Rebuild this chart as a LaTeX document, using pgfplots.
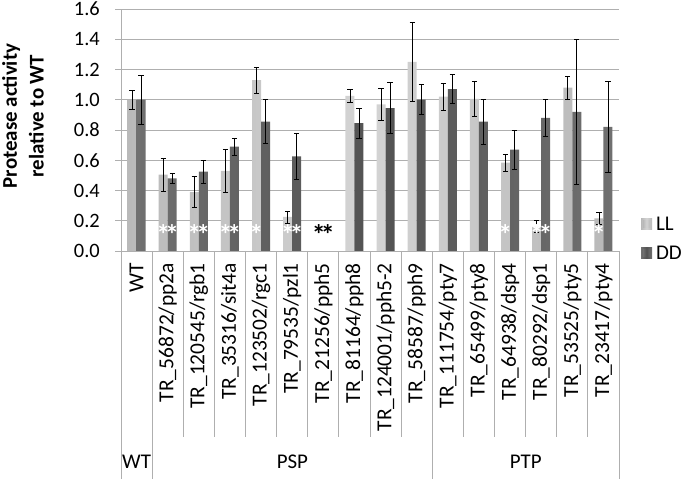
\documentclass[border=0pt]{standalone}
\usepackage{pgfplots}
\pgfplotsset{compat=1.18}
\usepackage{fontspec}
\setmainfont{Carlito}
\definecolor{linegray}{RGB}{175,175,175}
\definecolor{llA}{RGB}{185,185,185}
\definecolor{llB}{RGB}{212,212,212}
\definecolor{ddA}{RGB}{112,112,112}
\definecolor{ddB}{RGB}{82,82,82}
\newcommand{\dstar}{*\kern-5bp*}
\begin{document}
\begin{tikzpicture}
\useasboundingbox (0,0) rectangle (685bp,479bp);
\begin{axis}[
  at={(121bp,228bp)}, anchor=south west,
  scale only axis, width=498bp, height=242bp,
  xmin=-0.5, xmax=15.5, ymin=0, ymax=1.6,
  ybar=0pt, bar width=9bp,
  axis lines*=left,
  axis line style={draw=linegray, line width=0.8bp},
  ymajorgrids, grid style={draw=linegray, line width=0.8bp},
  ytick={0,0.2,...,1.6},
  tick align=outside, major tick length=6bp,
  ytick style={draw=linegray, line width=0.8bp},
  xtick style={draw=none},
  xtick={0,...,15},
  xticklabels={WT, TR\_56872/pp2a, TR\_120545/rgb1, TR\_35316/sit4a, TR\_123502/rgc1, TR\_79535/pzl1, TR\_21256/pph5, TR\_81164/pph8, TR\_124001/pph5-2, TR\_58587/pph9, TR\_111754/pty7, TR\_65499/pty8, TR\_64938/dsp4, TR\_80292/dsp1, TR\_53525/pty5, TR\_23417/pty4},
  x tick label style={rotate=90, anchor=east, inner sep=0pt, font=\fontsize{21.5}{24}\selectfont},
  xticklabel shift=6bp,
  y tick label style={inner sep=0pt, xshift=-15bp, font=\fontsize{20.5}{24}\selectfont,
    /pgf/number format/fixed, /pgf/number format/fixed zerofill, /pgf/number format/precision=1},
  /pgf/number format/assume math mode=true,
  ylabel={Protease activity\\relative to WT},
  every axis y label/.style={at={(rel axis cs:0,0.558)}, xshift=-98bp, rotate=90, align=center, font=\bfseries\fontsize{21}{27}\selectfont},
  legend style={at={(rel axis cs:1.044,0.15)}, anchor=north west, draw=none, fill=none, font=\fontsize{21}{24}\selectfont, row sep=10bp, inner sep=0pt, legend cell align=left},
  clip=false,
  every axis plot/.append style={error bars/y dir=both, error bars/y explicit,
    error bars/error bar style={black, line width=0.8bp},
    error bars/error mark options={rotate=90, mark size=2.6bp, black, line width=0.8bp}},
]
\addplot[draw=none, left color=llA, right color=llA, middle color=llB,
  legend image code/.code={\fill[llA] (0bp,-5.5bp) rectangle (11bp,5.5bp); \fill[llB] (2bp,-3.5bp) rectangle (9bp,3.5bp); \path (13bp,0bp);}]
  coordinates {
  (0,1.00) +- (0,0.065)
  (1,0.505) +- (0,0.11)
  (2,0.39) +- (0,0.10)
  (3,0.53) +- (0,0.14)
  (4,1.13) +- (0,0.085)
  (5,0.225) +- (0,0.04)
  (7,1.025) +- (0,0.045)
  (8,0.97) +- (0,0.105)
  (9,1.25) +- (0,0.26)
  (10,1.02) +- (0,0.09)
  (11,1.005) +- (0,0.115)
  (12,0.585) +- (0,0.056)
  (13,0.16) +- (0,0.04)
  (14,1.08) +- (0,0.075)
  (15,0.215) +- (0,0.04)
  };
\addlegendentry{LL}
\addplot[draw=none, left color=ddA, right color=ddA, middle color=ddB,
  legend image code/.code={\fill[ddA] (0bp,-5.5bp) rectangle (11bp,5.5bp); \fill[ddB] (2bp,-3.5bp) rectangle (9bp,3.5bp); \path (13bp,0bp);}]
  coordinates {
  (0,1.00) +- (0,0.16)
  (1,0.48) +- (0,0.035)
  (2,0.525) +- (0,0.075)
  (3,0.69) +- (0,0.055)
  (4,0.855) +- (0,0.145)
  (5,0.625) +- (0,0.15)
  (7,0.845) +- (0,0.10)
  (8,0.945) +- (0,0.17)
  (9,1.00) +- (0,0.10)
  (10,1.07) +- (0,0.095)
  (11,0.855) +- (0,0.148)
  (12,0.67) +- (0,0.13)
  (13,0.88) +- (0,0.125)
  (14,0.92) +- (0,0.48)
  (15,0.82) +- (0,0.30)
  };
\addlegendentry{DD}
% significance asterisks
\begin{scope}[every node/.style={font=\bfseries\fontsize{28}{28}\selectfont, inner sep=0pt}]
\node[white] at (axis cs:1,0.11) {\dstar};
\node[white] at (axis cs:2,0.11) {\dstar};
\node[white] at (axis cs:3,0.11) {\dstar};
\node[white] at (axis cs:3.85,0.11) {*};
\node[white] at (axis cs:5,0.11) {\dstar};
\node[black] at (axis cs:6,0.11) {\dstar};
\node[white] at (axis cs:11.85,0.11) {*};
\node[white] at (axis cs:13,0.11) {\dstar};
\node[white] at (axis cs:14.85,0.11) {*};
\end{scope}
\end{axis}
% category table below the axis
\foreach \k in {2,...,9,11,12,13,14,15}
  \draw[linegray, line width=0.8bp] (121bp+\k*31.125bp,228bp) -- (121bp+\k*31.125bp,42bp);
\foreach \k in {0,1,10,16}
  \draw[linegray, line width=0.8bp] (121bp+\k*31.125bp,228bp) -- (121bp+\k*31.125bp,0bp);
\node[font=\fontsize{21}{24}\selectfont] at (136.6bp,17bp) {WT};
\node[font=\fontsize{21}{24}\selectfont] at (292.4bp,17bp) {PSP};
\node[font=\fontsize{21}{24}\selectfont] at (525.7bp,17bp) {PTP};
\end{tikzpicture}
\end{document}
